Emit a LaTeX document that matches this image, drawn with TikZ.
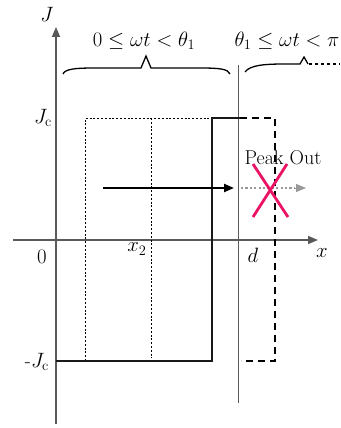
\documentclass[tikz,border=0pt]{standalone}
\usetikzlibrary{arrows.meta}
\begin{document}
\begin{tikzpicture}[x=1pt,y=-1pt,
  every node/.style={font=\fontsize{20}{24}\selectfont, inner sep=0pt},
  axis/.style={draw=black!65, line width=1.6pt},
  box/.style={draw=black!90, line width=1.4pt},
  dots/.style={draw=black, line width=0.9pt, dash pattern=on 2pt off 1.8pt},
  dashline/.style={draw=black, line width=1.4pt, dash pattern=on 7pt off 5pt},
  brc/.style={draw=black, line width=1.3pt},
  arr/.style={-{Triangle[length=10pt,width=8pt]}}]
\useasboundingbox (0,0) rectangle (340,428);
% axes
\coordinate (jb) at (56,424); \coordinate (jt) at (56,27);
\coordinate (xl) at (13,240); \coordinate (xr) at (318,240);
\draw[axis,arr] (jb) -- (jt);
\draw[axis,arr] (xl) -- (xr);
\node (J) at (47,14) {$J$};
\node (X) at (322,253) {$x$};
\node (O) at (42,257) {$0$};
\node (x2) at (137,249) {$x_2$};
\node (d) at (253,255) {$d$};
\node (jc) at (43,118) {$J_\mathrm{c}$};
\node (mjc) at (37,362) {-$J_\mathrm{c}$};
% vertical line at d
\coordinate (vt) at (238.5,65); \coordinate (vb) at (238.5,403);
\draw[axis] (vt) -- (vb);
% dotted profile
\coordinate (a1) at (85.5,118); \coordinate (a2) at (85.5,361);
\coordinate (b1) at (151,118); \coordinate (b2) at (151,358);
\coordinate (c1) at (212,118);
\draw[dots] (a2) -- (a1) -- (c1);
\draw[dots] (b1) -- (b2);
% solid profile
\coordinate (s0) at (56,361); \coordinate (s1) at (212,361);
\coordinate (s2) at (212,118); \coordinate (s3) at (240,118);
\draw[box] (s0) -- (s1) -- (s2) -- (s3);
% dashed profile
\coordinate (e1) at (240,118); \coordinate (e2) at (275,118);
\coordinate (e3) at (275,361); \coordinate (e4) at (241,361);
\draw[dashline] (e1) -- (e2) -- (e3) -- (e4);
% braces
\draw[brc] (63,74) .. controls (65,69) and (75,68) .. (95,68) -- (141,68) -- (146,56) -- (151,68) -- (200,68) .. controls (220,68) and (228,69) .. (230,74);
\draw[brc] (245,72) .. controls (250,65) and (265,64) .. (285,64) -- (300,64) -- (304,57) -- (308,64);
\draw[line width=1.3pt, dash pattern=on 3pt off 3pt] (309,64) -- (340,64);
\node (t1) at (144,41) {$0\leq\omega t<\theta_1$};
\node (t2) at (287,41) {$\theta_1\leq\omega t<\pi$};
% arrows
\coordinate (p0) at (103,188); \coordinate (p1) at (234,188);
\draw[line width=2.2pt, arr] (p0) -- (p1);
\coordinate (q0) at (241,188); \coordinate (q1) at (306,188);
\draw[black!40, line width=2.2pt, dash pattern=on 2.2pt off 2.2pt] (q0) -- (295,188);
\draw[black!40, line width=1pt, arr] (294,188) -- (q1);
% peak out
\node (pk) at (283,158) {Peak Out};
\definecolor{xred}{RGB}{235,20,100}
\draw[xred, line width=2.8pt] (253,164) -- (288,217);
\draw[xred, line width=2.8pt] (287,164) -- (253,217);
\end{tikzpicture}
\end{document}
